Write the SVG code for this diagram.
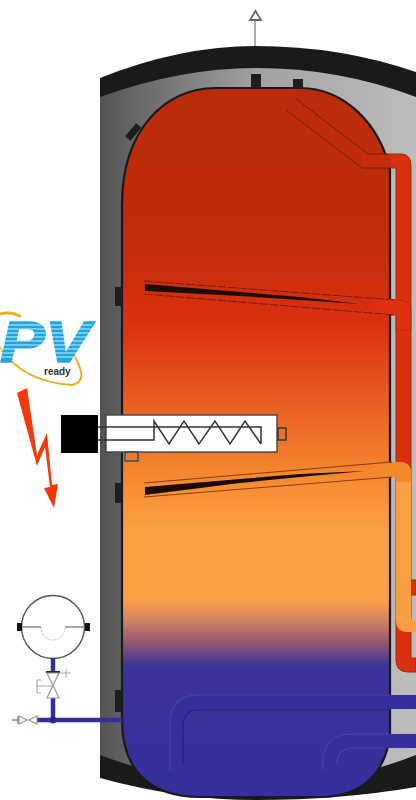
<svg xmlns="http://www.w3.org/2000/svg" width="416" height="800" viewBox="0 0 416 800">
<style>
.s{fill:#1e1e1e}
.hl{fill:none;stroke:#333;stroke-width:1.5}
.g{fill:#fff;stroke:#999;stroke-width:1.2}
.bl{fill:none;stroke:#242270;stroke-width:1.2}
.bf{fill:none;stroke:#4845a6;stroke-width:1.2}
.dk{fill:none;stroke:#7a1c08;stroke-width:1}
</style>
<defs>
<linearGradient id="jacket" x1="0" x2="1" y1="0" y2="0"><stop offset="0" stop-color="#525252"/><stop offset=".08" stop-color="#626262"/><stop offset=".5" stop-color="#a2a2a2"/><stop offset="1" stop-color="#bdbdbd"/></linearGradient>
<linearGradient id="tank" gradientUnits="userSpaceOnUse" x1="0" x2="0" y1="88" y2="798">
<stop offset="0" stop-color="#b92c0b"/><stop offset=".23" stop-color="#c32d0b"/><stop offset=".33" stop-color="#dc300f"/><stop offset=".44" stop-color="#e85c22"/><stop offset=".55" stop-color="#f58a30"/><stop offset=".62" stop-color="#fb9f45"/><stop offset=".72" stop-color="#fb9f45"/><stop offset=".745" stop-color="#d98a5f"/><stop offset=".78" stop-color="#96586f"/><stop offset=".815" stop-color="#3a3399"/><stop offset="1" stop-color="#33309e"/></linearGradient>
</defs>
<rect width="416" height="800" fill="#fff"/>
<g id="jacket-shell">
<path d="M100 78Q180 46 256 46Q340 46 416 72V787Q340 800 256 800Q180 800 100 778Z" fill="#1a1a1a"/>
<path d="M100 97Q180 68 256 68Q340 68 416 97V755Q340 785 256 785Q180 785 100 755Z" fill="url(#jacket)"/>
</g>
<g id="pipes-right">
<path d="M416 672H408Q396 672 396 660V168H370V154H401Q411 154 411 166V580H416V595H411V658H416Z" fill="#d9300f" stroke="#a32a10" stroke-width="1"/>
<path d="M385 300H401Q411 300 411 312V330H396V315H385Z" fill="#df300f" stroke="#a32a10" stroke-width=".8"/>
<path d="M385 462H400Q411 462 411 474V618Q411 620 416 620V632H408Q396 632 396 620V477H385Z" fill="#fb9f45"/>
<path d="M385 462H400Q411 462 411 474V482H396V477H385Z" fill="#f28a2a"/>
</g>
<g id="tank-body">
<path d="M122 205C122 130 165 88 215 88H300C345 88 380 125 390 170V735C385 775 360 797 320 797H200C150 797 122 770 122 720Z" fill="url(#tank)" stroke="#1a1a1a" stroke-width="2.2"/>
</g>
<g id="pipes-inner">
<path d="M362 154H391V168H362Z" fill="#c32d0b"/>
<path d="M295 98L368 154H388M286 110L362 168H390" class="dk" stroke-width="1.2"/>
<path d="M375 299H398V315H375Z" fill="#df300f"/>
<path d="M144 281L395 300M144 294L395 315" class="dk" stroke-dasharray="9 1.5"/>
<polygon points="145,284 240,292 300,297 360,304 300,300 240,296 145,291" fill="#1c0c08"/>
<path d="M375 463H398V477H375Z" fill="#f28a2a"/>
<path d="M144 483L392 462M144 497L392 477" fill="none" stroke="#8c3c10" stroke-width="1"/>
<polygon points="145,487 240,479 300,474 365,471 300,477 240,483 145,495" fill="#1c0c08"/>
<path d="M170 770V720Q172 695 197 695H416V709H197Q183 712 183 728V763" fill="#33309e"/>
<path d="M170 770V720Q172 696 197 695H390" class="bf"/>
<path d="M183 763V724Q185 710 197 710H390" class="bl"/>
<path d="M323 770V758Q326 735 350 734H416V748H350Q337 750 337 763" fill="#33309e"/>
<path d="M323 770V758Q326 735 350 734H390M337 763Q337 750 350 748H385" class="bf"/>
</g>
<g id="sensors">
<rect class="s" x="115" y="287" width="7" height="19"/>
<rect class="s" x="115" y="483" width="7" height="20"/>
<rect class="s" x="115" y="690" width="7" height="22"/>
<rect class="s" x="251" y="74" width="10" height="14"/>
<rect class="s" x="293" y="79" width="10" height="10"/>
<rect class="s" x="130" y="124" width="7" height="17" transform="rotate(40 134 132)"/>
</g>
<g id="air-vent">
<path d="M255 46V20" stroke="#777" stroke-width="1.2" fill="none"/>
<path d="M255.500 11L261 20H250Z" fill="#fff" stroke="#666" stroke-width="1.8"/>
</g>
<g id="heater">
<rect x="61" y="415" width="37" height="38" fill="#000"/>
<rect x="106" y="415" width="171" height="37" fill="#fff" stroke="#444" stroke-width="1.4"/>
<rect x="278" y="428" width="8" height="12" fill="none" stroke="#333" stroke-width="1.4"/>
<rect x="125" y="452" width="13" height="9" fill="none" stroke="#2e4a70" stroke-width="1.4"/>
<path class="hl" d="M98 427H261V444M98 440H154V421L169 444L184 421L199 444L215 421L230 444L245 421L261 444"/>
</g>
<g id="pv-logo">
<path d="M0 314Q12 311 21 317" fill="none" stroke="#e8b021" stroke-width="3"/>
<path d="M0 347Q22 382 72 385Q85 382 80 368Q77 358 68 348" fill="none" stroke="#e8b021" stroke-width="2"/>
<text x="0" y="362" textLength="90" lengthAdjust="spacingAndGlyphs" font-family="'Liberation Sans',sans-serif" font-weight="700" font-style="italic" font-size="58" fill="#1ea6e2" stroke="#1ea6e2" stroke-width="1.5">PV</text>
<path d="M0 325H92M0 329H92M0 333H92M0 337H92M0 341H92M0 345H92M0 349H92M0 353H92M0 357H92" stroke="#fff" stroke-width=".8" fill="none"/>
<text x="44" y="375" font-family="'Liberation Sans',sans-serif" font-weight="700" font-size="10" fill="#333">ready</text>
</g>
<g id="bolt">
<polygon points="17,393 27,388 37,455 47,433 52,485 58,484 54,508 44,488 50,487 45,447 37,466" fill="#f5370c"/>
</g>
<g id="expansion-vessel">
<circle cx="53" cy="627" r="31.500" fill="#fff" stroke="#555" stroke-width="1.4"/>
<rect x="17" y="623" width="5" height="8" fill="#111"/>
<rect x="85" y="623" width="5" height="8" fill="#111"/>
<path d="M22 627H41M65 627H85" stroke="#888" stroke-width="1.4" fill="none"/>
<path d="M41 627A12 13 0 0 0 65 627" stroke="#bbb" stroke-width="1" stroke-dasharray="2 1" fill="none"/>
<path d="M53 658V672M53 698V720M36 720H122" stroke="#33309e" stroke-width="4.500" fill="none"/>
<circle cx="53" cy="720" r="3.500" fill="#2a2880"/>
<path d="M46 672H60" stroke="#222" stroke-width="2"/>
<path d="M60 673H71M66 669V678" stroke="#aaa" stroke-width="1"/>
<path d="M47 673H59L47 698H59Z" class="g"/>
<path d="M37 680V693M37 680H41M37 693H41M37 686H53" fill="none" stroke="#aaa" stroke-width="1.2"/>
<path d="M12 720H18M18 716V724" stroke="#555" stroke-width="1"/>
<path d="M19 716L27 720L19 724ZM37 716L29 720L37 724Z" class="g"/>
</g>
</svg>
